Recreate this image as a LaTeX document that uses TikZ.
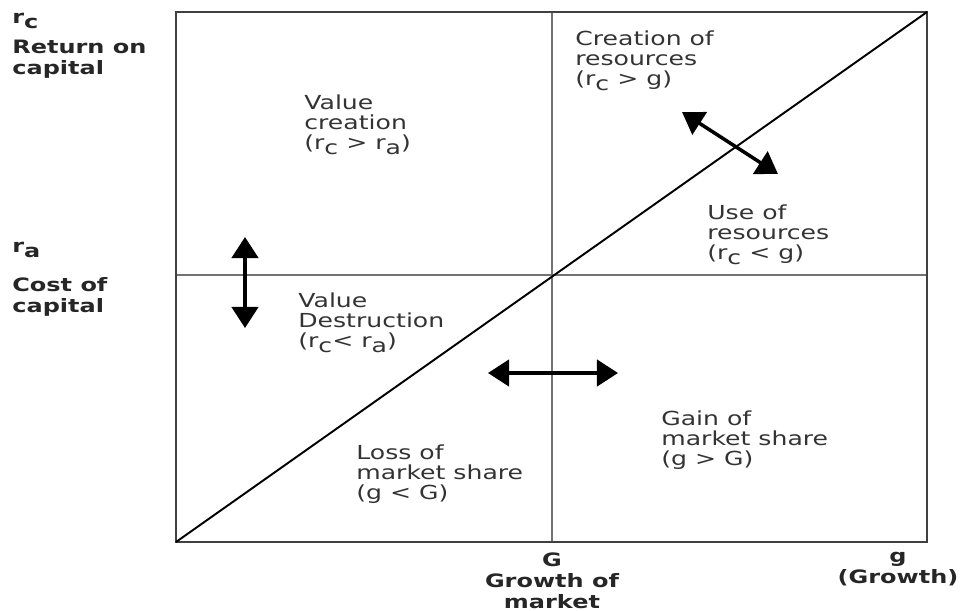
\documentclass[tikz,border=0pt]{standalone}
\usepackage{fontspec}
\setmainfont{DejaVu Sans}[FakeStretch=1.3]
\usetikzlibrary{arrows.meta}

\newcommand{\lowsub}[1]{\raisebox{-0.45ex}{#1}}

\tikzset{
    quadlabel/.style={anchor=north west, align=left, inner sep=0pt,
        font=\fontsize{11}{11.6}\selectfont, text=black!80},
    axislabel/.style={anchor=north west, align=left, inner sep=0pt,
        font=\fontsize{10.5}{12}\selectfont\bfseries, text=black!85},
    bothway/.style={{Triangle[width=15pt,length=12pt]}-{Triangle[width=15pt,length=12pt]},
        line width=2pt},
}

\begin{document}
\begin{tikzpicture}[x=0.02cm, y=-0.02cm]
    \useasboundingbox (0,0) rectangle (961,610);

    % Frame and quadrants
    \coordinate (bl) at (176,542);
    \coordinate (tr) at (927,12);
    \coordinate (mid) at (552,275);
    \draw[black!55, line width=0.6pt] (552,12) -- (552,542);
    \draw[black!55, line width=0.6pt] (176,275) -- (927,275);
    \draw[black!75, line width=1.1pt] (bl) rectangle (tr);
    \draw[black, line width=1.1pt] (bl) -- (tr);

    % Double arrows
    \coordinate (vtop) at (245,237);
    \coordinate (vbot) at (245,328);
    \coordinate (hleft) at (488,373);
    \coordinate (hright) at (618,373);
    \coordinate (dup) at (682,112);
    \coordinate (ddown) at (778,174);
    \draw[bothway] (vtop) -- (vbot);
    \draw[bothway] (hleft) -- (hright);
    \draw[bothway] (dup) -- (ddown);

    % Axis labels
    \node[axislabel] (rc) at (12,13) {r\lowsub{c}\\[5pt]Return on\\capital};
    \node[axislabel] (ra) at (12,242) {r\lowsub{a}\\[10pt]Cost of\\capital};
    \node[axislabel, anchor=north, align=center] (bigG) at (552,552) {G\\Growth of\\market};
    \node[axislabel, anchor=north, align=center] (smallg) at (898,552) {g\\(Growth)};

    % Quadrant labels
    \node[quadlabel] (vcreate) at (304,94) {Value\\creation\\(r\lowsub{c} > r\lowsub{a})};
    \node[quadlabel] (rcreate) at (575,30) {Creation of\\resources\\(r\lowsub{c} > g)};
    \node[quadlabel] (ruse) at (707,204) {Use of\\resources\\(r\lowsub{c} < g)};
    \node[quadlabel] (vdestroy) at (298,292) {Value\\Destruction\\(r\lowsub{c}< r\lowsub{a})};
    \node[quadlabel] (loss) at (356,444) {Loss of\\market share\\(g < G)};
    \node[quadlabel] (gain) at (661,410) {Gain of\\market share\\(g > G)};
\end{tikzpicture}
\end{document}
